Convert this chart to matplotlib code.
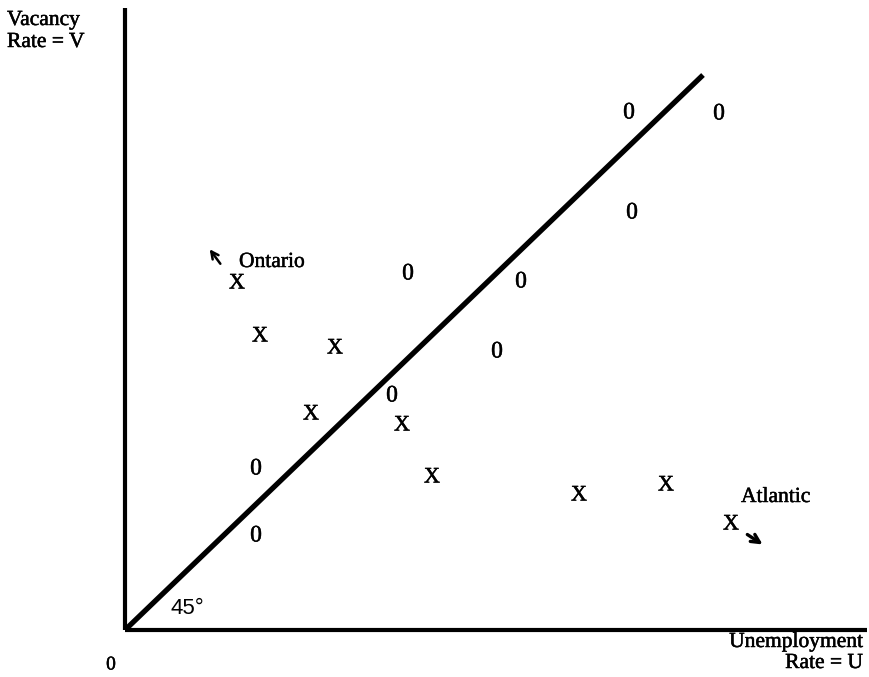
import matplotlib.pyplot as plt
import matplotlib.patheffects as pe

# Region observations (U, V) in arbitrary chart units
x_points_u = [112, 135, 210, 186, 277, 307, 454, 541, 606]
x_points_v = [346, 293, 281, 215, 204, 152, 134, 144, 105]
o_points_u = [504, 594, 507, 283, 396, 372, 267, 131, 131]
o_points_v = [517, 516, 417, 356, 348, 278, 234, 161, 94]

line_u = [0, 578]
line_v = [0, 555]

serif = ["Liberation Serif", "DejaVu Serif"]
ink = [pe.withStroke(linewidth=0.35, foreground="black")]

fig = plt.figure(figsize=(8.7, 6.77), dpi=100)
ax = fig.add_axes([0, 0, 1, 1])
ax.set_xlim(-125, 745)
ax.set_ylim(-47, 630)
ax.axis("off")

# axes drawn as thick lines
ax.plot([0, 0], [0, 622], color="black", lw=3, solid_capstyle="butt")
ax.plot([0, 742], [0, 0], color="black", lw=3, solid_capstyle="butt")

# 45 degree line
ax.plot(line_u, line_v, color="black", lw=3.8, solid_capstyle="butt")

for u, v in zip(x_points_u, x_points_v):
    ax.text(u, v, "X", ha="center", va="center", fontsize=16, family=serif,
            path_effects=ink)
for u, v in zip(o_points_u, o_points_v):
    ax.text(u, v, "0", ha="center", va="center", fontsize=17, family=serif,
            path_effects=ink)

# axis labels, one text per line to keep the tight print spacing
lab = dict(fontsize=15.5, family=serif, va="baseline", path_effects=ink)
ax.text(-118, 605, "Vacancy", ha="left", **lab)
ax.text(-118, 583, "Rate = V", ha="left", **lab)
ax.text(738, -17, "Unemployment", ha="right", **lab)
ax.text(738, -38, "Rate = U", ha="right", **lab)

ax.text(-14, -35, "0", ha="center", va="center", fontsize=14, family=serif,
        path_effects=ink)
ax.text(62, 21, "45°", ha="center", va="center", fontsize=16,
        family=["Liberation Sans", "DejaVu Sans"])

ax.text(114, 363, "Ontario", ha="left", **lab)
ax.text(616, 128, "Atlantic", ha="left", **lab)

ax.annotate("", xy=(83, 383), xytext=(97, 364),
            arrowprops=dict(arrowstyle="->", color="black", lw=1.8,
                            mutation_scale=13))
ax.annotate("", xy=(640, 84), xytext=(620, 97),
            arrowprops=dict(arrowstyle="->", color="black", lw=2.4,
                            mutation_scale=15))

fig.savefig("out.png", dpi=100)
